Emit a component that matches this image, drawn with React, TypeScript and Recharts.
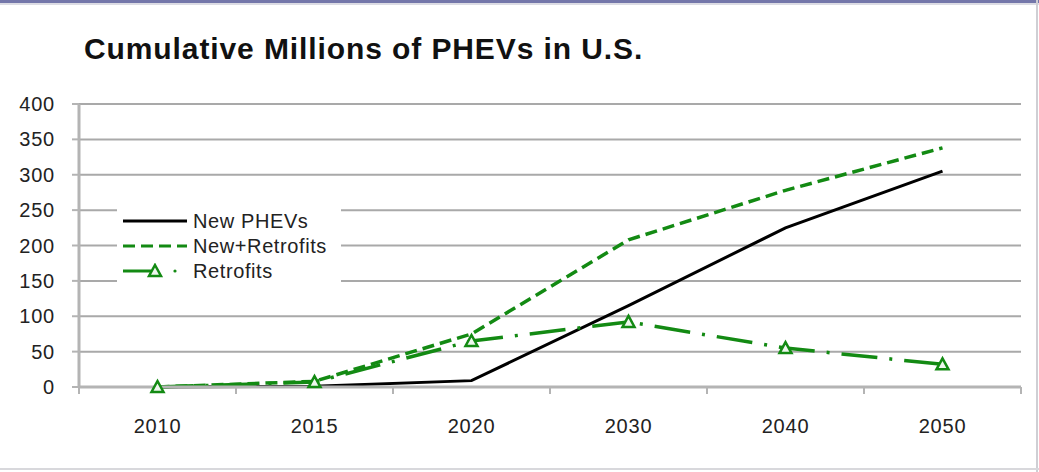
import { LineChart, Line, XAxis, YAxis, CartesianGrid } from 'recharts';

const years = ['2010', '2015', '2020', '2030', '2040', '2050'];
const newPhevs = [0, 1, 9, 115, 225, 305];
const newPlusRetrofits = [0, 8, 75, 208, 278, 338];
const retrofits = [0, 7, 65, 92, 55, 32];
const yTicks = [0, 50, 100, 150, 200, 250, 300, 350, 400];

const data = years.map((year, i) => ({
  year,
  newPhevs: newPhevs[i],
  newPlusRetrofits: newPlusRetrofits[i],
  retrofits: retrofits[i],
}));

const W = 1039;
const H = 472;
const MARGIN = { top: 104, right: 18, bottom: 45, left: 0 };
const Y_AXIS_W = 79;
const HALF_BAND = (W - MARGIN.left - MARGIN.right - Y_AXIS_W) / years.length / 2;

const GREEN = '#138a13';
const GRID = '#a9a9a9';
const AXIS = '#b4b4b4';
const TEXT = '#222';
const FONT = '"Liberation Sans", Arial, sans-serif';

function Triangle({ cx, cy }: { cx?: number; cy?: number }) {
  if (cx == null || cy == null) return null;
  return (
    <path
      d={`M${cx},${cy - 6} L${cx + 6},${cy + 5} L${cx - 6},${cy + 5} Z`}
      fill="#eef7ee"
      stroke={GREEN}
      strokeWidth={2.5}
    />
  );
}

function XTick(props: any) {
  const { x, y, payload, index } = props;
  const last = index === years.length - 1;
  return (
    <g>
      <line x1={x - HALF_BAND} y1={y} x2={x - HALF_BAND} y2={y + 7} stroke={AXIS} strokeWidth={2} />
      {last && (
        <line x1={x + HALF_BAND} y1={y} x2={x + HALF_BAND} y2={y + 7} stroke={AXIS} strokeWidth={2} />
      )}
      <text x={x} y={y + 46} textAnchor="middle" fill={TEXT} fontSize={20} fontFamily={FONT} letterSpacing={0.8}>
        {payload.value}
      </text>
    </g>
  );
}

function LegendBox() {
  const rows = [
    { label: 'New PHEVs', stroke: '#000', dash: undefined as string | undefined, marker: false },
    { label: 'New+Retrofits', stroke: GREEN, dash: '12 6', marker: false },
    { label: 'Retrofits', stroke: GREEN, dash: undefined, marker: true },
  ];
  return (
    <div style={{ background: '#fff', padding: '8px 4px', width: 216 }}>
      {rows.map((r) => (
        <div key={r.label} style={{ display: 'flex', alignItems: 'center', height: 25 }}>
          <svg width={70} height={16} style={{ marginRight: 2 }}>
            {r.marker ? (
              <>
                <line x1={2} y1={8} x2={30} y2={8} stroke={GREEN} strokeWidth={3} />
                <Triangle cx={34} cy={8} />
                <circle cx={54} cy={8} r={1.6} fill={GREEN} />
              </>
            ) : (
              <line x1={2} y1={8} x2={66} y2={8} stroke={r.stroke} strokeWidth={3} strokeDasharray={r.dash} />
            )}
          </svg>
          <span style={{ fontSize: 20, fontFamily: FONT, color: TEXT, letterSpacing: 0.6, lineHeight: '20px' }}>
            {r.label}
          </span>
        </div>
      ))}
    </div>
  );
}

export default function App() {
  return (
    <div style={{ position: 'fixed', top: 0, left: 0, width: W, height: H, background: '#fff', overflow: 'hidden' }}>
      <div style={{ position: 'absolute', top: 0, left: 0, width: W, height: 3, background: '#7477aa' }} />
      <div style={{ position: 'absolute', top: 3, left: 0, width: W, height: 2, background: '#dcdce4' }} />
      <div style={{ position: 'absolute', top: 0, right: 1, width: 2, height: H, background: '#cfcfd4' }} />
      <div style={{ position: 'absolute', bottom: 2, left: 0, width: W, height: 2, background: '#d8d8dc' }} />
      <div
        style={{
          position: 'absolute',
          top: 34,
          left: 84,
          fontFamily: FONT,
          fontWeight: 'bold',
          fontSize: 30,
          lineHeight: '30px',
          letterSpacing: 0.9,
          color: '#111',
          whiteSpace: 'nowrap',
        }}
      >
        Cumulative Millions of PHEVs in U.S.
      </div>
      <LineChart width={W} height={H} data={data} margin={MARGIN} style={{ position: 'absolute', top: 0, left: 0 }}>
        <CartesianGrid vertical={false} stroke={GRID} strokeWidth={2} />
        <XAxis
          dataKey="year"
          padding={{ left: HALF_BAND, right: HALF_BAND }}
          tickLine={false}
          tickSize={0}
          tickMargin={0}
          height={40}
          axisLine={{ stroke: AXIS, strokeWidth: 3 }}
          tick={<XTick />}
          interval={0}
        />
        <YAxis
          domain={[0, 400]}
          ticks={yTicks}
          interval={0}
          width={Y_AXIS_W}
          tickSize={7}
          tickMargin={17}
          tickLine={{ stroke: AXIS, strokeWidth: 2 }}
          axisLine={{ stroke: AXIS, strokeWidth: 3 }}
          tick={{ fill: TEXT, fontSize: 20, fontFamily: FONT, letterSpacing: 0.8 }}
        />
        <Line
          dataKey="newPhevs"
          stroke="#000"
          strokeWidth={3}
          dot={false}
          activeDot={false}
          isAnimationActive={false}
        />
        <Line
          dataKey="newPlusRetrofits"
          stroke={GREEN}
          strokeWidth={3.5}
          strokeDasharray="12 6"
          dot={false}
          activeDot={false}
          isAnimationActive={false}
        />
        <Line
          dataKey="retrofits"
          stroke={GREEN}
          strokeWidth={3.5}
          strokeDasharray="36 12 3 12"
          dot={(p: any) => <Triangle key={p.index} cx={p.cx} cy={p.cy} />}
          activeDot={false}
          isAnimationActive={false}
        />
      </LineChart>
      <div style={{ position: 'absolute', left: 117, top: 200 }}>
        <LegendBox />
      </div>
    </div>
  );
}
